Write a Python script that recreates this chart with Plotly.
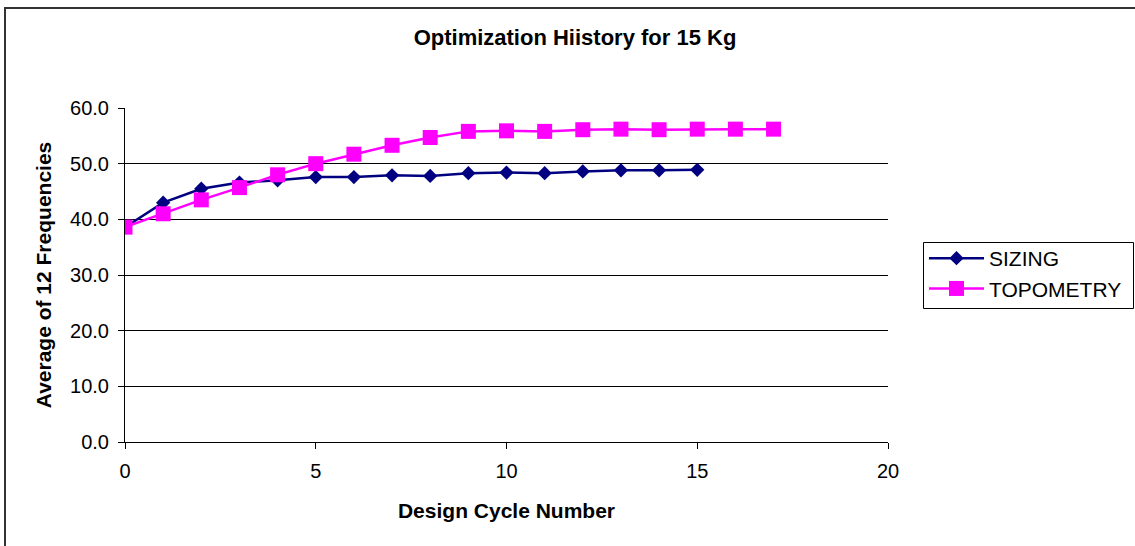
import plotly.graph_objects as go

cycles_sizing = list(range(0, 16))
sizing = [38.6, 43.0, 45.5, 46.6, 47.0, 47.6, 47.6, 47.9, 47.8, 48.3, 48.4, 48.3, 48.6, 48.8, 48.8, 48.9]

cycles_topo = list(range(0, 18))
topometry = [38.6, 41.0, 43.5, 45.7, 48.0, 50.0, 51.7, 53.3, 54.7, 55.8, 55.9, 55.8, 56.1, 56.2, 56.1, 56.2, 56.2, 56.2]

title_text = "Optimization Hiistory for 15 Kg"
x_title = "Design Cycle Number"
y_title = "Average of 12 Frequencies"
y_ticks = [0, 10, 20, 30, 40, 50, 60]
y_tick_labels = ["0.0", "10.0", "20.0", "30.0", "40.0", "50.0", "60.0"]
x_ticks = [0, 5, 10, 15, 20]

FONT = "Liberation Sans, Arial, sans-serif"
W, H = 1135, 546
L, R, T, B = 125, 247, 108, 104
pw, ph = W - L - R, H - T - B

def px_x(p):
    return (p - L) / pw

def px_y(p):
    return (H - B - p) / ph

fig = go.Figure()
fig.add_trace(go.Scatter(
    x=cycles_sizing, y=sizing, name="SIZING", mode="lines+markers",
    line=dict(color="#000080", width=2.5),
    marker=dict(symbol="diamond", size=11, color="#000080"),
))
fig.add_trace(go.Scatter(
    x=cycles_topo, y=topometry, name="TOPOMETRY", mode="lines+markers",
    line=dict(color="#FF00FF", width=2.5),
    marker=dict(symbol="square", size=15, color="#FF00FF"),
))

fig.update_layout(
    width=W, height=H,
    margin=dict(l=L, r=R, t=T, b=B, pad=0),
    paper_bgcolor="white", plot_bgcolor="white",
    font=dict(family=FONT, size=20, color="black"),
    title=dict(text="<b>" + title_text + "</b>", x=575 / W, xref="container", xanchor="center",
               y=1 - 37 / H, yref="container", yanchor="middle",
               font=dict(family=FONT, size=22, color="black")),
    showlegend=True,
    legend=dict(x=924 / W, xref="container", xanchor="left",
                y=1 - 238 / H, yref="container", yanchor="top",
                borderwidth=0, bgcolor="rgba(0,0,0,0)",
                font=dict(family=FONT, size=21, color="black"),
                itemwidth=55, tracegroupgap=0),
    xaxis=dict(range=[0, 20], tickvals=x_ticks, ticktext=[str(v) for v in x_ticks],
               showgrid=False, zeroline=False, showline=True, linecolor="black", linewidth=1,
               ticks="outside", ticklen=6, tickcolor="black", ticklabelstandoff=5,
               tickfont=dict(family=FONT, size=20, color="black"),
               title=dict(text="<b>" + x_title + "</b>", font=dict(family=FONT, size=21, color="black"),
                          standoff=22)),
    yaxis=dict(range=[0, 60], tickvals=y_ticks, ticktext=y_tick_labels,
               showgrid=True, gridcolor="black", gridwidth=1, zeroline=False,
               showline=True, linecolor="black", linewidth=1,
               ticks="outside", ticklen=6, tickcolor="black", ticklabelstandoff=5,
               tickfont=dict(family=FONT, size=20, color="black"),
               title=dict(text="<b>" + y_title + "</b>", font=dict(family=FONT, size=21, color="black"),
                          standoff=12)),
    shapes=[
        dict(type="rect", xref="paper", yref="paper",
             x0=px_x(5), x1=px_x(1146), y0=px_y(560), y1=px_y(8),
             line=dict(color="#333333", width=2), fillcolor="rgba(0,0,0,0)", layer="above"),
        dict(type="rect", xref="paper", yref="paper",
             x0=px_x(923.5), x1=px_x(1133.5), y0=px_y(308.5), y1=px_y(242.5),
             line=dict(color="black", width=1), fillcolor="rgba(0,0,0,0)", layer="above"),
    ],
)

fig.write_html("out.html")
